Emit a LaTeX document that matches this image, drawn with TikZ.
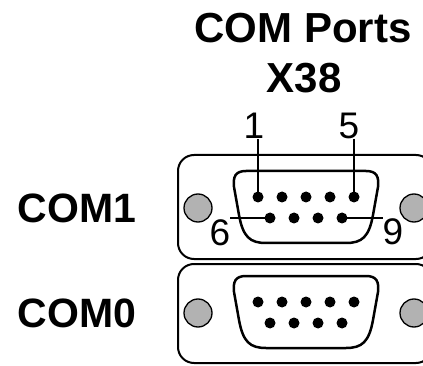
\documentclass[tikz,border=0pt]{standalone}
\usepackage{fontspec}
\setmainfont{Liberation Sans}
\usetikzlibrary{calc}

\begin{document}
\begin{tikzpicture}[
    x=1pt, y=-1pt,
    port frame/.style={draw, line width=2pt, rounded corners=16pt},
    shell/.style={draw, line width=2.5pt},
    pin/.style={circle, fill=black, inner sep=0pt, minimum size=11pt},
    screw/.style={circle, draw, fill=black!30, line width=1.3pt, inner sep=0pt, minimum size=28pt},
    title/.style={font=\fontsize{42}{48}\selectfont\bfseries, anchor=base},
    port name/.style={font=\fontsize{41}{48}\selectfont\bfseries, anchor=base},
    pin label/.style={font=\fontsize{37}{42}\selectfont, inner sep=0pt},
    leader/.style={line width=2pt}
  ]
\useasboundingbox (0,0) rectangle (423,366);
%
\draw[port frame] (178,155) rectangle (432,259);
\draw[port frame] (178,264) rectangle (432,363);
%
\foreach \t/\p in {171/a,276/b} {
  \node[screw] (\p-sl) at (198,\t+37) {};
  \node[screw] (\p-sr) at (414,\t+37) {};
  \draw[shell] (246,\t) -- (366,\t) .. controls (377,\t) and (379,\t+6) .. (378,\t+16)
    -- (373,\t+44) .. controls (369,\t+66) and (362,\t+72) .. (346,\t+72)
    -- (266,\t+72) .. controls (250,\t+72) and (243,\t+66) .. (239,\t+44)
    -- (234,\t+16) .. controls (233,\t+6) and (235,\t) .. (246,\t) -- cycle;
  \foreach \i/\x in {1/258,2/282,3/306,4/330,5/354}
    \node[pin] (\p-\i) at (\x,\t+26) {};
  \foreach \i/\x in {6/270,7/294,8/318,9/342}
    \node[pin] (\p-\i) at (\x,\t+47) {};
}
%
\node[title] (title) at (303,43) {COM Ports};
\node[title] (conn) at (304,93) {X38};
\node[port name] (com1) at (77,223) {COM1};
\node[port name] (com0) at (77,327) {COM0};
%
\node[pin label, anchor=south] (l1) at (254,139) {1};
\node[pin label, anchor=south] (l5) at (349,139) {5};
\node[pin label] (l6) at (220,233) {6};
\node[pin label] (l9) at (393,232) {9};
%
\draw[leader] (a-1 |- l1.south) -- (a-1.center);
\draw[leader] (a-5 |- l5.south) -- (a-5.center);
\draw[leader] (l6.north east |- a-6) -- (a-6.center);
\draw[leader] (a-9.center) -- (l9.north west |- a-9);
\end{tikzpicture}
\end{document}
